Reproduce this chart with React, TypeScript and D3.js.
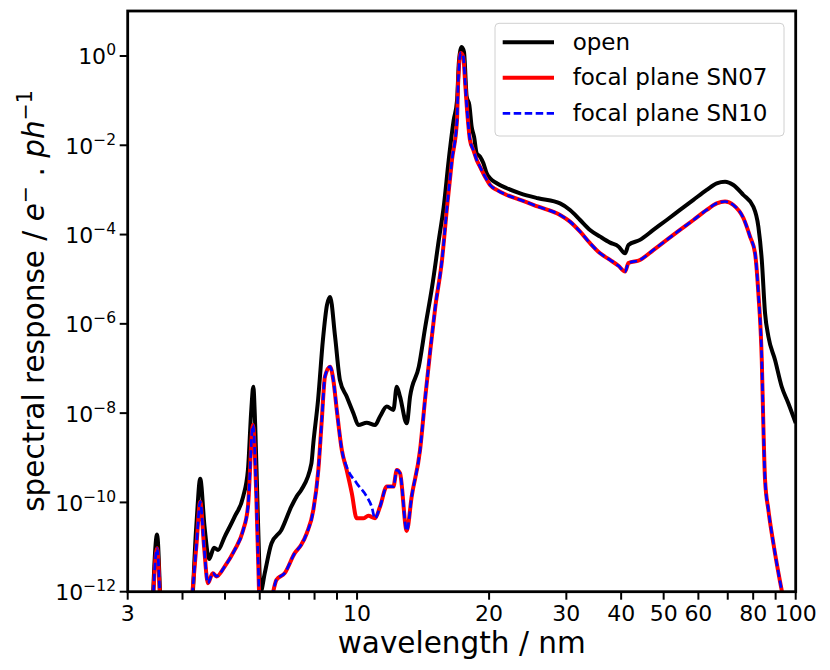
import React from "react";
import * as d3 from "d3";

// [wavelength nm, spectral response]
const openCurve: [number, number][] = [
  [3.40, 1e-13], [3.50, 1.9e-11], [3.60, 1e-13], [4.15, 1e-13], [4.30, 2.9e-11],
  [4.39, 3.4e-10], [4.49, 2.9e-11], [4.60, 5.4e-12], [4.72, 9.7e-12], [4.82, 8.6e-12],
  [4.99, 1.7e-11], [5.26, 4.8e-11], [5.50, 1.35e-10], [5.64, 5.4e-10], [5.74, 1.2e-8],
  [5.80, 3.9e-8], [5.86, 5.0e-9], [5.95, 2.9e-11], [6.03, 1e-12], [6.16, 2.6e-12],
  [6.38, 1.2e-11], [6.72, 2.4e-11], [7.08, 8.0e-11], [7.28, 1.35e-10], [7.46, 1.9e-10],
  [7.87, 7.5e-10], [7.95, 2.15e-9], [8.15, 2.0e-8], [8.36, 4.4e-7], [8.54, 2.65e-6],
  [8.68, 4.0e-6], [8.91, 5.2e-7], [9.14, 5.5e-8], [9.47, 2.35e-8], [9.81, 1.0e-8],
  [10.07, 5.4e-9], [10.52, 6.1e-9], [10.99, 5.4e-9], [11.28, 8.4e-9], [11.69, 1.4e-8],
  [12.10, 1.18e-8], [12.32, 3.9e-8], [12.53, 2.35e-8], [12.98, 5.9e-9], [13.21, 2.35e-8],
  [13.83, 1.1e-7], [14.31, 8.7e-7], [14.83, 6.8e-6], [15.36, 7.6e-5], [15.76, 4.2e-4],
  [16.18, 4.7e-3], [16.61, 3.7e-2], [16.90, 0.10], [17.08, 0.81], [17.32, 1.59],
  [17.53, 1.23], [17.78, 0.123], [18.03, 0.080], [18.25, 0.026], [18.48, 0.0156],
  [18.74, 6.6e-3], [19.07, 5.6e-3], [19.41, 3.95e-3], [19.75, 2.36e-3], [20.10, 1.82e-3],
  [20.82, 1.41e-3], [21.94, 1.09e-3], [23.54, 8.4e-4], [25.86, 6.5e-4], [29.02, 5.0e-4],
  [30.58, 3.56e-4], [32.25, 2.12e-4], [33.97, 1.27e-4], [35.82, 9.0e-5], [37.74, 6.6e-5],
  [39.43, 5.4e-5], [40.84, 3.8e-5], [41.56, 5.85e-5], [44.16, 7.6e-5], [47.36, 1.27e-4],
  [50.81, 2.12e-4], [54.48, 3.56e-4], [58.46, 6.0e-4], [62.68, 1.0e-3], [66.07, 1.41e-3],
  [69.01, 1.53e-3], [72.09, 1.29e-3], [75.98, 7.7e-4], [80.07, 4.2e-4], [82.21, 1.5e-4],
  [83.69, 2.7e-5], [85.14, 1.73e-6], [86.64, 5.2e-7], [89.73, 1.55e-7], [92.93, 3.9e-8],
  [96.20, 1.67e-8], [100, 6.0e-9],
];

const sn07Curve: [number, number][] = [
  [3.40, 1e-13], [3.50, 9.4e-12], [3.60, 1e-13], [4.17, 5e-13], [4.30, 1.0e-11],
  [4.39, 1.04e-10], [4.48, 1.0e-11], [4.57, 1.55e-12], [4.69, 2.6e-12], [4.78, 2.2e-12],
  [4.99, 3.65e-12], [5.26, 8.6e-12], [5.50, 2.4e-11], [5.64, 8.0e-11], [5.79, 5.4e-9],
  [5.89, 1.6e-10], [5.95, 5.2e-12], [6.00, 5e-13], [6.30, 5e-13], [6.55, 1.84e-12],
  [6.84, 2.6e-12], [7.21, 7.3e-12], [7.46, 1.12e-11], [7.68, 2.04e-11], [7.95, 6.8e-11],
  [8.16, 5.3e-10], [8.31, 7.0e-9], [8.45, 6.6e-8], [8.68, 1.1e-7], [8.83, 5.5e-8],
  [8.99, 1.18e-8], [9.23, 1.5e-9], [9.47, 5.3e-10], [9.73, 1.6e-10], [9.98, 4.4e-11],
  [10.33, 4.4e-11], [10.61, 5.0e-11], [10.99, 4.4e-11], [11.28, 8.0e-11], [11.69, 2.26e-10],
  [12.10, 2.26e-10], [12.32, 5.3e-10], [12.53, 4.5e-10], [12.98, 2.3e-11], [13.32, 1.35e-10],
  [13.92, 1.5e-9], [14.31, 2.35e-8], [14.69, 2.6e-7], [15.08, 2.4e-6], [15.62, 2.7e-5],
  [16.04, 4.2e-4], [16.46, 4.7e-3], [16.90, 3.7e-2], [16.99, 0.22], [17.23, 1.17],
  [17.47, 0.96], [17.62, 0.29], [17.84, 0.052], [18.09, 0.0131], [18.41, 7.9e-3],
  [18.74, 4.7e-3], [19.07, 3.3e-3], [19.58, 1.98e-3], [20.10, 1.29e-3], [20.82, 1.0e-3],
  [21.94, 7.7e-4], [23.54, 6.0e-4], [25.9, 4.2e-4], [29.02, 2.75e-4], [30.58, 1.95e-4],
  [32.25, 1.16e-4], [33.97, 6.4e-5], [35.82, 3.8e-5], [37.74, 2.7e-5], [39.43, 2.0e-5],
  [40.84, 1.48e-5], [41.56, 2.3e-5], [44.16, 2.7e-5], [47.36, 4.5e-5], [50.81, 7.6e-5],
  [54.48, 1.27e-4], [58.46, 2.12e-4], [62.68, 3.56e-4], [66.07, 5.0e-4], [69.01, 5.5e-4],
  [72.09, 4.6e-4], [75.98, 2.35e-4], [78.69, 9.0e-5], [80.78, 3.8e-5], [82.21, 4.8e-6],
  [83.69, 1.55e-7], [84.40, 5.0e-9], [85.14, 3.2e-10], [86.64, 6.8e-11], [88.94, 1.22e-11],
  [92.11, 1.68e-12], [93.8, 6.6e-13],
];

const sn10Curve: [number, number][] = [
  [3.40, 1e-13], [3.50, 9.4e-12], [3.60, 1e-13], [4.17, 5e-13], [4.30, 1.0e-11],
  [4.39, 1.04e-10], [4.48, 1.0e-11], [4.57, 1.55e-12], [4.69, 2.6e-12], [4.78, 2.2e-12],
  [4.99, 3.65e-12], [5.26, 8.6e-12], [5.50, 2.4e-11], [5.64, 8.0e-11], [5.79, 5.4e-9],
  [5.89, 1.6e-10], [5.95, 5.2e-12], [6.00, 5e-13], [6.30, 5e-13], [6.55, 1.84e-12],
  [6.84, 2.6e-12], [7.21, 7.3e-12], [7.46, 1.12e-11], [7.68, 2.04e-11], [7.95, 6.8e-11],
  [8.16, 5.3e-10], [8.31, 7.0e-9], [8.45, 6.6e-8], [8.68, 1.1e-7], [8.83, 5.5e-8],
  [8.99, 1.18e-8], [9.23, 1.5e-9], [9.47, 6.3e-10], [9.98, 2.7e-10], [10.52, 1.35e-10],
  [10.80, 8.0e-11], [10.99, 4.4e-11], [11.28, 8.0e-11], [11.69, 2.26e-10],
  [12.10, 2.26e-10], [12.32, 5.3e-10], [12.53, 4.5e-10], [12.98, 2.3e-11], [13.32, 1.35e-10],
  [13.92, 1.5e-9], [14.31, 2.35e-8], [14.69, 2.6e-7], [15.08, 2.4e-6], [15.62, 2.7e-5],
  [16.04, 4.2e-4], [16.46, 4.7e-3], [16.90, 3.7e-2], [16.99, 0.22], [17.23, 1.17],
  [17.47, 0.96], [17.62, 0.29], [17.84, 0.052], [18.09, 0.0131], [18.41, 7.9e-3],
  [18.74, 4.7e-3], [19.07, 3.3e-3], [19.58, 1.98e-3], [20.10, 1.29e-3], [20.82, 1.0e-3],
  [21.94, 7.7e-4], [23.54, 6.0e-4], [25.9, 4.2e-4], [29.02, 2.75e-4], [30.58, 1.95e-4],
  [32.25, 1.16e-4], [33.97, 6.4e-5], [35.82, 3.8e-5], [37.74, 2.7e-5], [39.43, 2.0e-5],
  [40.84, 1.48e-5], [41.56, 2.3e-5], [44.16, 2.7e-5], [47.36, 4.5e-5], [50.81, 7.6e-5],
  [54.48, 1.27e-4], [58.46, 2.12e-4], [62.68, 3.56e-4], [66.07, 5.0e-4], [69.01, 5.5e-4],
  [72.09, 4.6e-4], [75.98, 2.35e-4], [78.69, 9.0e-5], [80.78, 3.8e-5], [82.21, 4.8e-6],
  [83.69, 1.55e-7], [84.40, 5.0e-9], [85.14, 3.2e-10], [86.64, 6.8e-11], [88.94, 1.22e-11],
  [92.11, 1.68e-12], [93.8, 6.6e-13],
];

const xTickValues = [3, 4, 5, 6, 7, 8, 9, 10, 20, 30, 40, 50, 60, 70, 80, 90, 100];
const xTickLabels = ["3", "", "", "", "", "", "", "10", "20", "30", "40", "50", "60", "", "80", "", "100"];
const yTickExponents = [0, -2, -4, -6, -8, -10, -12];

const seriesNames = ["open", "focal plane SN07", "focal plane SN10"];
const seriesColors = ["#000000", "#ff0000", "#0000ff"];

const W = 830, H = 670;
const L = 127.7, R = 795.7, T = 11, B = 591.7;
const FONT = "DejaVu Sans, sans-serif";

export default function App() {
  const x = d3.scaleLog().domain([3, 100]).range([L, R]);
  const y = d3.scaleLog().domain([1e-12, 10]).range([B, 11.35]);
  const line = d3
    .line<[number, number]>()
    .x((d) => x(d[0]))
    .y((d) => y(d[1]))
    .curve(d3.curveMonotoneX);

  const curves = [openCurve, sn07Curve, sn10Curve];
  const widths = [4, 4, 2.7];
  const dashes = [undefined, undefined, "7.5,3.5"];

  const legendX = 495, legendY = 23.3, legendW = 289, legendH = 112.7;
  const legendRows = [42.3, 77.7, 113.3];

  return (
    <svg
      width={W}
      height={H}
      style={{ position: "absolute", left: 0, top: 0, background: "#fff" }}
      fontFamily={FONT}
    >
      <defs>
        <clipPath id="plotclip">
          <rect x={L} y={T} width={R - L} height={B - T} />
        </clipPath>
      </defs>
      <rect x={0} y={0} width={W} height={H} fill="#fff" />
      <g clipPath="url(#plotclip)">
        {curves.map((c, i) => (
          <path
            key={i}
            d={line(c) || ""}
            fill="none"
            stroke={seriesColors[i]}
            strokeWidth={widths[i]}
            strokeDasharray={dashes[i]}
            strokeLinejoin="round"
          />
        ))}
      </g>
      {/* frame */}
      <rect x={L} y={T} width={R - L} height={B - T} fill="none" stroke="#000" strokeWidth={2.8} />
      {/* x ticks */}
      {xTickValues.map((v, i) => (
        <g key={"xt" + i}>
          <line x1={x(v)} x2={x(v)} y1={B} y2={B + 8} stroke="#000" strokeWidth={2} />
          {xTickLabels[i] && (
            <text x={x(v)} y={621} textAnchor="middle" fontSize={22} fill="#000">
              {xTickLabels[i]}
            </text>
          )}
        </g>
      ))}
      {/* y ticks */}
      {yTickExponents.map((e) => {
        const yy = y(Math.pow(10, e));
        return (
          <g key={"yt" + e}>
            <line x1={L - 8} x2={L} y1={yy} y2={yy} stroke="#000" strokeWidth={2} />
            <text x={116} y={yy + 8.5} textAnchor="end" fontSize={22} fill="#000">
              10
              <tspan fontSize={15.5} dy={-9}>
                {e === 0 ? "0" : "\u2212" + Math.abs(e)}
              </tspan>
            </text>
          </g>
        );
      })}
      {/* axis labels */}
      <text x={(L + R) / 2} y={653} textAnchor="middle" fontSize={29.5} fill="#000">
        wavelength / nm
      </text>
      <text
        transform={`translate(44, 301) rotate(-90)`}
        textAnchor="middle"
        fontSize={29.5}
        fill="#000"
      >
        spectral response /{" "}
        <tspan fontStyle="italic">e</tspan>
        <tspan fontSize={20.5} dy={-12}>{"\u2212"}</tspan>
        <tspan dy={12}> . </tspan>
        <tspan fontStyle="italic">ph</tspan>
        <tspan fontSize={20.5} dy={-12}>{"\u22121"}</tspan>
      </text>
      {/* legend */}
      <rect
        x={legendX}
        y={legendY}
        width={legendW}
        height={legendH}
        rx={4}
        fill="#fff"
        fillOpacity={0.8}
        stroke="#d0d0d0"
        strokeWidth={1}
      />
      {seriesNames.map((n, i) => (
        <g key={"lg" + i}>
          <line
            x1={502.7}
            x2={554}
            y1={legendRows[i]}
            y2={legendRows[i]}
            stroke={seriesColors[i]}
            strokeWidth={widths[i]}
            strokeDasharray={dashes[i]}
          />
          <text x={572.7} y={legendRows[i] + 7.5} fontSize={23} fill="#000">
            {n}
          </text>
        </g>
      ))}
    </svg>
  );
}
